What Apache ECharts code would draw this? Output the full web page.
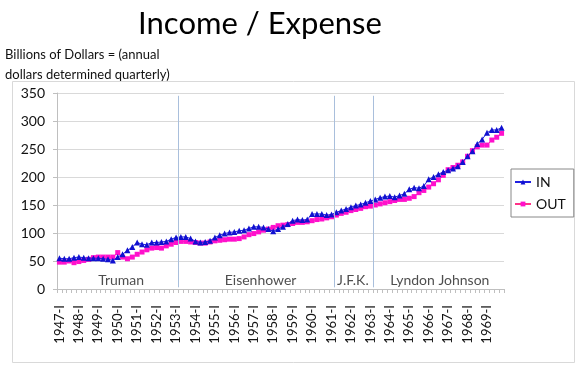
<!DOCTYPE html>
<html>
<head>
<meta charset="utf-8">
<script src="https://cdn.jsdelivr.net/npm/echarts@6/dist/echarts.min.js"></script>
<style>
html,body{margin:0;padding:0;background:#fff;}
#chart{width:576px;height:372px;}
</style>
</head>
<body>
<div id="chart"></div>
<script>
// Quarterly categories 1947-I .. 1969-IV
var years = [];
for (var y = 1947; y <= 1969; y++) years.push(y);
var quarters = ['I', 'II', 'III', 'IV'];
var categories = [];
years.forEach(function (yr) { quarters.forEach(function (q) { categories.push(yr + '-' + q); }); });

var incomeValues = [
  55, 54, 54, 56, 57, 56, 55, 55, 55, 54, 53, 51,
  57, 62, 69, 75, 83, 80, 79, 83, 83, 84, 85, 89,
  92, 93, 93, 90, 85, 83, 84, 86, 92, 96, 99, 101,
  102, 104, 105, 108, 111, 111, 110, 107, 103, 107, 111, 116,
  122, 124, 123, 124, 134, 134, 134, 132, 133, 137, 140, 143,
  146, 149, 151, 154, 157, 160, 163, 165, 166, 164, 167, 170,
  178, 181, 180, 184, 196, 200, 205, 209, 212, 215, 219, 227,
  237, 246, 259, 267, 279, 284, 284, 288
];
var expenseValues = [
  48, 48, 50, 47, 49, 51, 53, 56, 57, 57, 57, 57,
  65, 57, 54, 57, 62, 66, 70, 73, 74, 73, 77, 80,
  83, 85, 85, 84, 83, 82, 82, 84, 86, 87, 88, 89,
  89, 90, 93, 97, 99, 102, 105, 107, 110, 113, 114, 115,
  117, 119, 119, 120, 122, 124, 125, 127, 129, 132, 135, 137,
  140, 142, 144, 147, 148, 150, 152, 154, 156, 158, 160, 160,
  162, 165, 172, 176, 182, 188, 195, 203, 213, 217, 221, 227,
  237, 247, 254, 257, 257, 266, 271, 278
];
// administration boundaries (quarter index where a new term begins)
var termBoundaries = [25, 57, 65];
var presidents = ['Truman', 'Eisenhower', 'J.F.K.', 'Lyndon Johnson'];
var presidentLabelAt = [13.2, 41.9, 60.9, 78.8];
var yTicks = [0, 50, 100, 150, 200, 250, 300, 350];

var chart = echarts.init(document.getElementById('chart'), null, {renderer: 'canvas'});
var FONT = 'Lato';
var option = {
  animation: false,
  backgroundColor: '#ffffff',
  textStyle: {fontFamily: FONT},
  title: [{
    text: 'Income / Expense',
    left: 255, top: 3, textAlign: 'center',
    textStyle: {fontFamily: FONT, fontSize: 31, fontWeight: 'normal', color: '#000'}
  }, {
    text: 'Billions of Dollars = (annual\ndollars determined quarterly)',
    left: 0, top: 40,
    textStyle: {fontFamily: FONT, fontSize: 13, fontWeight: 'normal', color: '#111', lineHeight: 20}
  }],
  graphic: [{
    type: 'rect', left: 10, top: 79, z: -10,
    shape: {width: 562, height: 281},
    style: {fill: 'none', stroke: '#D9D9D9', lineWidth: 1}
  }],
  legend: {
    data: ['IN', 'OUT'],
    orient: 'vertical',
    left: 511, top: 169,
    width: 58,
    padding: [6, 8, 6, 3],
    itemGap: 8,
    itemWidth: 16, itemHeight: 6,
    borderColor: '#888', borderWidth: 1,
    textStyle: {fontFamily: FONT, fontSize: 14, color: '#111'}
  },
  grid: {left: 57, right: 72, top: 93, bottom: 83, containLabel: false},
  xAxis: [{
    type: 'category',
    data: categories,
    boundaryGap: true,
    axisLine: {lineStyle: {color: '#BFBFBF'}},
    axisTick: {show: true, interval: 0, length: 4, lineStyle: {color: '#BFBFBF'}},
    axisLabel: {
      interval: 3, rotate: 90, margin: 16,
      fontFamily: FONT, fontSize: 13, color: '#111'
    },
    splitLine: {show: false}
  }, {
    type: 'value', min: 0, max: categories.length, show: false
  }],
  yAxis: {
    type: 'value', min: yTicks[0], max: yTicks[yTicks.length - 1], interval: 50,
    axisLine: {show: true, lineStyle: {color: '#BFBFBF'}},
    axisTick: {show: true, length: 4, lineStyle: {color: '#BFBFBF'}},
    axisLabel: {fontFamily: FONT, fontSize: 14, color: '#111', margin: 12},
    splitLine: {lineStyle: {color: '#D9D9D9', width: 1}}
  },
  series: [{
    name: 'IN', type: 'line', data: incomeValues,
    symbol: 'triangle', symbolSize: 6, showSymbol: true, showAllSymbol: true,
    itemStyle: {color: '#1010D0'},
    lineStyle: {color: '#2020E0', width: 1},
    z: 3
  }, {
    name: 'OUT', type: 'line', data: expenseValues,
    symbol: 'rect', symbolSize: 5, showSymbol: true, showAllSymbol: true,
    itemStyle: {color: '#FF10CC'},
    lineStyle: {color: '#FF3388', width: 1},
    z: 2
  }, {
    name: 'terms', type: 'scatter', xAxisIndex: 1, yAxisIndex: 0,
    symbolSize: 0,
    data: presidents.map(function (p, i) { return {name: p, value: [presidentLabelAt[i], 16]}; }),
    label: {show: true, position: 'inside', formatter: '{b}', fontFamily: FONT, fontSize: 14, color: '#222'},
    markLine: {
      silent: true, symbol: 'none',
      label: {show: false},
      lineStyle: {color: '#A9BFDC', width: 1, type: 'solid'},
      data: termBoundaries.map(function (b) { return [{coord: [b, 345]}, {coord: [b, 3]}]; })
    },
    z: 1
  }]
};
chart.setOption(option);
</script>
</body>
</html>
